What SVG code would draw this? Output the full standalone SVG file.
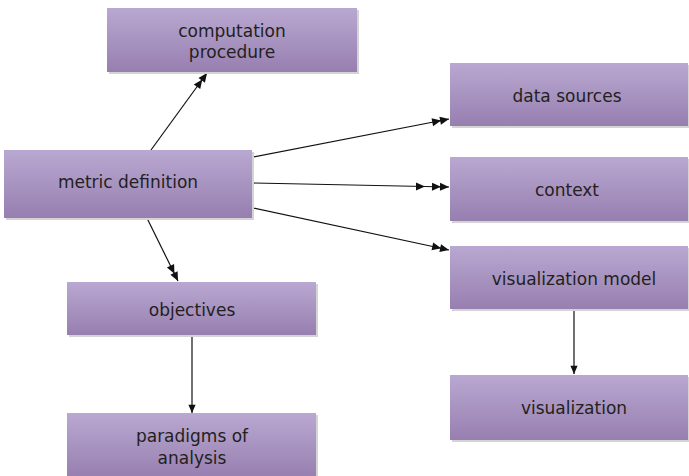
<svg xmlns="http://www.w3.org/2000/svg" width="689" height="476" viewBox="0 0 689 476">
<defs>
<linearGradient id="g" x1="0" y1="0" x2="0" y2="1">
<stop offset="0" stop-color="#b9a8d1"/>
<stop offset="1" stop-color="#977fb0"/>
</linearGradient>
<marker id="a2" markerUnits="userSpaceOnUse" markerWidth="20" markerHeight="10" viewBox="-18 -5 19 10" refX="0" refY="0" orient="auto">
<path d="M0,0 L-9,-4 L-9,4 Z M-8,0 L-17,-4 L-17,4 Z" fill="#111"/>
</marker>
<marker id="a1" markerUnits="userSpaceOnUse" markerWidth="10" markerHeight="10" viewBox="-10 -5 11 10" refX="0" refY="0" orient="auto">
<path d="M0,0 L-9,-4 L-9,4 Z" fill="#111"/>
</marker>
</defs>
<style>
.box{fill:url(#g);}
.sh{fill:#d4d4d4;}
.t{font-family:"DejaVu Sans",Verdana,sans-serif;font-size:17px;fill:#231f20;text-anchor:middle;}
.c{stroke:#111;stroke-width:1.2;fill:none;}
</style>
<rect width="689" height="476" fill="#fff"/>
<g id="connectors">
<line class="c" x1="151" y1="150" x2="207" y2="73" marker-end="url(#a2)"/>
<line class="c" x1="143" y1="210" x2="178" y2="281" marker-end="url(#a2)"/>
<line class="c" x1="253" y1="157" x2="449" y2="119" marker-end="url(#a2)"/>
<line class="c" x1="253" y1="183" x2="449" y2="187" marker-end="url(#a2)"/>
<path d="M425,186.5 L416,182.5 L416,190.5 Z" fill="#111"/>
<line class="c" x1="253" y1="208" x2="449" y2="250" marker-end="url(#a2)"/>
<line class="c" x1="192" y1="335" x2="192" y2="413" marker-end="url(#a1)"/>
<line class="c" x1="574" y1="309" x2="574" y2="374" marker-end="url(#a1)"/>
</g>
<g id="computation">
<rect class="sh" x="109" y="10" width="250" height="64"/>
<rect class="box" x="107" y="8" width="250" height="64"/>
<text class="t" x="232" y="37">computation</text>
<text class="t" x="232" y="58">procedure</text>
</g>
<g id="metric">
<rect class="sh" x="6" y="152" width="248" height="68"/>
<rect class="box" x="4" y="150" width="248" height="68"/>
<text class="t" x="128" y="188">metric definition</text>
</g>
<g id="datasources">
<rect class="sh" x="452" y="65" width="238" height="63"/>
<rect class="box" x="450" y="63" width="238" height="63"/>
<text class="t" x="567" y="102">data sources</text>
</g>
<g id="context">
<rect class="sh" x="452" y="159" width="238" height="64"/>
<rect class="box" x="450" y="157" width="238" height="64"/>
<text class="t" x="567" y="196">context</text>
</g>
<g id="vismodel">
<rect class="sh" x="452" y="248" width="238" height="63"/>
<rect class="box" x="450" y="246" width="238" height="63"/>
<text class="t" x="574" y="285">visualization model</text>
</g>
<g id="visualization">
<rect class="sh" x="452" y="377" width="238" height="65"/>
<rect class="box" x="450" y="375" width="238" height="65"/>
<text class="t" x="574" y="414">visualization</text>
</g>
<g id="objectives">
<rect class="sh" x="69" y="284" width="249" height="53"/>
<rect class="box" x="67" y="282" width="249" height="53"/>
<text class="t" x="192" y="316">objectives</text>
</g>
<g id="paradigms">
<rect class="sh" x="69" y="415" width="249" height="63"/>
<rect class="box" x="67" y="413" width="249" height="65"/>
<text class="t" x="192" y="442">paradigms of</text>
<text class="t" x="192" y="464">analysis</text>
</g>
</svg>
